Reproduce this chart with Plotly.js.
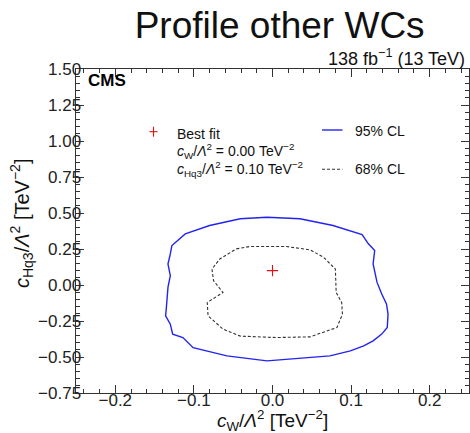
<!DOCTYPE html>
<html>
<head>
<meta charset="utf-8">
<script src="https://cdn.plot.ly/plotly-3.0.1.min.js"></script>
<style>html,body{margin:0;padding:0;background:#fff;}#plot{width:470px;height:433px;}</style>
</head>
<body>
<div id="plot"></div>
<script>
// ---- data ----
const bestFitX = [0.00];
const bestFitY = [0.10];

const cont95X = [-0.007, 0.035, 0.077, 0.099, 0.114, 0.122, 0.130, 0.128, 0.133, 0.139, 0.145, 0.147, 0.146, 0.139, 0.128, 0.116, 0.099, 0.073, 0.044, -0.007, -0.058, -0.101, -0.114, -0.127, -0.130, -0.136, -0.135, -0.133, -0.130, -0.133, -0.130, -0.128, -0.111, -0.080, -0.041, -0.007];
const cont95Y = [0.471, 0.460, 0.413, 0.378, 0.350, 0.286, 0.239, 0.146, 0.018, -0.063, -0.132, -0.202, -0.295, -0.341, -0.388, -0.423, -0.458, -0.492, -0.504, -0.527, -0.492, -0.435, -0.365, -0.341, -0.272, -0.214, -0.156, -0.017, 0.065, 0.146, 0.216, 0.274, 0.355, 0.413, 0.460, 0.471];

const cont68X = [-0.046, -0.029, 0.018, 0.048, 0.065, 0.080, 0.081, 0.088, 0.089, 0.082, 0.048, 0.005, -0.041, -0.063, -0.082, -0.083, -0.063, -0.075, -0.077, -0.067, -0.046];
const cont68Y = [0.251, 0.267, 0.267, 0.244, 0.192, 0.111, -0.052, -0.121, -0.202, -0.295, -0.360, -0.365, -0.355, -0.306, -0.214, -0.121, -0.052, 0.030, 0.111, 0.181, 0.251];

const xRange = [-0.25, 0.25];
const yRange = [-0.75, 1.50];

const titleText = "Profile other WCs";
const lumiText = "138 fb<sup>−1</sup> (13 TeV)";
const cmsText = "<b>CMS</b>";
const legendTexts = [
  "Best fit",
  "<i>c</i><sub>W</sub>/<i>Λ</i><sup>2</sup> = 0.00 TeV<sup>−2</sup>",
  "<i>c</i><sub>Hq3</sub>/<i>Λ</i><sup>2</sup> = 0.10 TeV<sup>−2</sup>",
  "95% CL",
  "68% CL"
];
const xTitle = "<i>c</i><sub>W</sub>/<i>Λ</i><sup>2</sup> [TeV<sup>−2</sup>]";
const yTitle = "<i>c</i><sub>Hq3</sub>/<i>Λ</i><sup>2</sup> [TeV<sup>−2</sup>]";

// ---- plot ----
const FONT = "Liberation Sans, Arial, Helvetica, sans-serif";
const blue = "#2323f0";
const dashCol = "#333333";

const traces = [
  {x: cont95X, y: cont95Y, type: "scatter", mode: "lines",
   line: {color: blue, width: 1.4}, hoverinfo: "skip"},
  {x: cont68X, y: cont68Y, type: "scatter", mode: "lines",
   line: {color: dashCol, width: 1.1, dash: "3px,2px"}, hoverinfo: "skip"},
  {x: bestFitX, y: bestFitY, xaxis: "x2", yaxis: "y2", type: "scatter", mode: "markers",
   marker: {symbol: "cross-thin", size: 8, line: {color: "#e01010", width: 1.1}}}
];

// frame + inside ticks (no labels)
const frameAxis = {
  showgrid: false, zeroline: false, showline: true, linecolor: "#333", linewidth: 1,
  mirror: "allticks", ticks: "inside", ticklen: 8, tickcolor: "#333", tickwidth: 1,
  showticklabels: false
};
// label axes, nudged a few px toward the plot as in the reference
const labelAxis = {
  showgrid: false, zeroline: false, showline: false, ticks: "",
  showticklabels: true, anchor: "free",
  tickfont: {family: FONT, size: 17, color: "#222"}
};

const layout = {
  width: 470, height: 433,
  margin: {l: 76, r: 1, t: 69, b: 40},
  paper_bgcolor: "#fff", plot_bgcolor: "#fff",
  showlegend: false,
  font: {family: FONT, color: "#111"},
  title: {text: titleText, font: {family: FONT, size: 37, color: "#111"},
          x: 0.595, xanchor: "center", y: 0.943, yanchor: "middle", xref: "container", yref: "container"},
  xaxis: Object.assign({}, frameAxis, {
    range: xRange, dtick: 0.1, tick0: 0,
    minor: {dtick: 0.02, ticks: "inside", ticklen: 4, tickcolor: "#333"}
  }),
  yaxis: Object.assign({}, frameAxis, {
    range: yRange, dtick: 0.25, tick0: 0,
    minor: {dtick: 0.05, ticks: "inside", ticklen: 4, tickcolor: "#333"}
  }),
  xaxis2: Object.assign({}, labelAxis, {
    overlaying: "x", side: "bottom", position: 0.015,
    range: xRange, dtick: 0.1, tick0: 0, tickformat: ".1f"
  }),
  yaxis2: Object.assign({}, labelAxis, {
    overlaying: "y", side: "left", position: 0.013,
    range: yRange, dtick: 0.25, tick0: 0, tickformat: ".2f"
  }),
  annotations: [
    {text: xTitle, xref: "paper", yref: "paper", x: 0.499, y: -0.085,
     xanchor: "center", yanchor: "middle", showarrow: false,
     font: {family: FONT, size: 19, color: "#111"}},
    {text: yTitle, textangle: -90, xref: "paper", yref: "paper", x: -0.137, y: 0.525,
     xanchor: "center", yanchor: "middle", showarrow: false,
     font: {family: FONT, size: 20, color: "#111"}},
    {text: cmsText, xref: "paper", yref: "paper", x: 0.026, y: 0.963, xanchor: "left", yanchor: "middle",
     showarrow: false, font: {family: FONT, size: 17, color: "#000"}},
    {text: lumiText, xref: "paper", yref: "paper", x: 0.995, y: 1.037, xanchor: "right", yanchor: "middle",
     showarrow: false, font: {family: FONT, size: 18, color: "#111"}},
    {text: legendTexts[0], xref: "paper", yref: "paper", x: 0.252, y: 0.800, xanchor: "left", yanchor: "middle",
     showarrow: false, font: {family: FONT, size: 14, color: "#111"}},
    {text: legendTexts[1], xref: "paper", yref: "paper", x: 0.252, y: 0.746, xanchor: "left", yanchor: "middle",
     showarrow: false, font: {family: FONT, size: 14, color: "#111"}},
    {text: legendTexts[2], xref: "paper", yref: "paper", x: 0.252, y: 0.690, xanchor: "left", yanchor: "middle",
     showarrow: false, font: {family: FONT, size: 14, color: "#111"}},
    {text: legendTexts[3], xref: "paper", yref: "paper", x: 0.705, y: 0.808, xanchor: "left", yanchor: "middle",
     showarrow: false, font: {family: FONT, size: 14, color: "#111"}},
    {text: legendTexts[4], xref: "paper", yref: "paper", x: 0.705, y: 0.690, xanchor: "left", yanchor: "middle",
     showarrow: false, font: {family: FONT, size: 14, color: "#111"}}
  ],
  shapes: [
    // legend glyphs
    {type: "line", xref: "paper", yref: "paper", x0: 0.626, x1: 0.678, y0: 0.8117, y1: 0.8117,
     line: {color: blue, width: 1.4}},
    {type: "line", xref: "paper", yref: "paper", x0: 0.626, x1: 0.678, y0: 0.6904, y1: 0.6904,
     line: {color: dashCol, width: 1.1, dash: "3px,2px"}},
    {type: "line", xref: "paper", yref: "paper", x0: 0.1870, x1: 0.2074, y0: 0.8065, y1: 0.8065,
     line: {color: "#e01010", width: 1.1}},
    {type: "line", xref: "paper", yref: "paper", x0: 0.1972, x1: 0.1972, y0: 0.7910, y1: 0.8220,
     line: {color: "#e01010", width: 1.1}}
  ]
};

Plotly.newPlot("plot", traces, layout, {staticPlot: true, displayModeBar: false});
</script>
</body>
</html>
